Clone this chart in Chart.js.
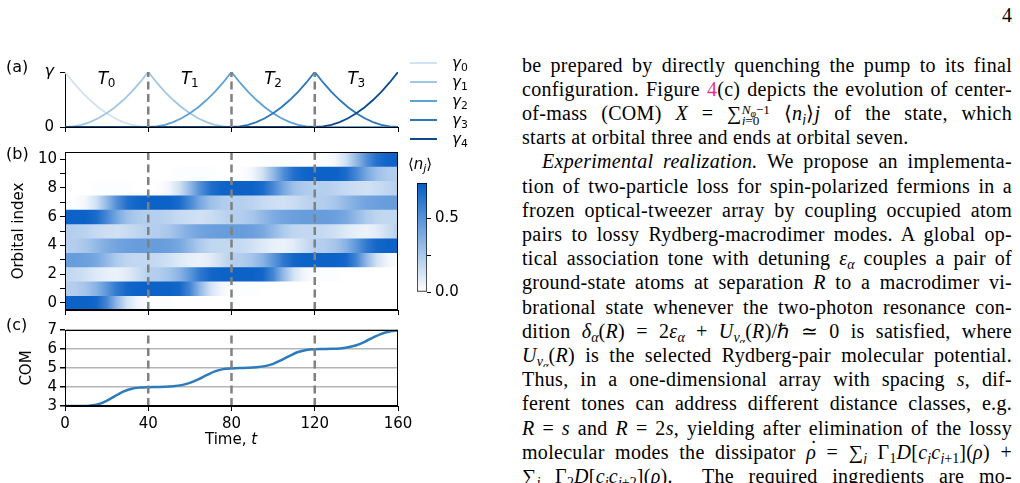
<!DOCTYPE html>
<html lang="en">
<head>
<meta charset="UTF-8">
<title>Orbital pumping figure</title>
<script src="https://cdn.jsdelivr.net/npm/chart.js"></script>
<style>
  body { margin: 0; width: 1020px; height: 483px; overflow: hidden; position: relative; background: #fff; font-family: 'DejaVu Sans', sans-serif; color: #000; }
  canvas { position: absolute; }
  .lbl { position: absolute; font-size: 16px; line-height: 1; white-space: nowrap; }
  .ctr { transform: translate(-50%, -50%); }
  #legend .row { position: absolute; left: 410px; height: 18px; width: 80px; }
  #legend .swatch { position: absolute; left: 0; top: 8px; width: 27px; height: 2px; }
  #legend .name { position: absolute; left: 42px; top: 0; font-size: 15px; line-height: 18px; }
  .msub { font-size: 0.72em; position: relative; top: 0.28em; line-height: 0; font-style: normal; }

  #text { position: absolute; left: 522px; top: 52.7px; width: 490px; font-family: 'Liberation Serif', serif; font-size: 20px; letter-spacing: 0.3px; line-height: 24.2px; }
  #text .ln { height: 24.2px; text-align: justify; text-align-last: justify; overflow: hidden; }
  #text .end { text-align-last: left; }
  #text .ind { text-indent: 20px; }
  .sb { font-size: 0.7em; position: relative; top: 0.3em; line-height: 0; letter-spacing: 0; }
  .sb2 { font-size: 0.75em; position: relative; top: 0.25em; line-height: 0; }
  .lim { display: inline-block; vertical-align: -0.4em; line-height: 0.85; font-size: 0.66em; text-align: left; text-indent: 0; letter-spacing: 0; }
  .dot { position: relative; display: inline-block; }
  .dot::after { content: '\02D9'; position: absolute; left: 0.2em; top: -0.1em; font-style: normal; line-height: 1; }
  .link { color: #e5308f; }
  #pgnum { position: absolute; left: 1002px; top: 4px; font-family: 'Liberation Serif', serif; font-size: 20px; }
</style>
</head>
<body>
  <canvas id="chartA" width="420" height="86" style="left:0;top:56px"></canvas>
  <canvas id="chartB" width="420" height="182" style="left:0;top:140px"></canvas>
  <canvas id="chartC" width="420" height="130" style="left:0;top:318px"></canvas>
  <canvas id="cbar" width="70" height="135" style="left:405px;top:170px"></canvas>

  <div class="lbl" style="left:6px;top:59px">(a)</div>
  <div class="lbl" style="left:6px;top:146px">(b)</div>
  <div class="lbl" style="left:6px;top:317px">(c)</div>
  <div class="lbl ctr" style="left:231px;top:439px;font-size:15px">Time, <i>t</i></div>
  <div class="lbl ctr" style="left:420px;top:164px;font-size:15px">⟨<i>n</i><span class="msub"><i>j</i></span>⟩</div>
  <div id="legend"></div>

  <div id="pgnum">4</div>
  <div id="text">
    <div class="ln">be prepared by directly quenching the pump to its final</div>
    <div class="ln">configuration. Figure <span class="link">4</span>(c) depicts the evolution of center-</div>
    <div class="ln">of-mass (COM) <i>X</i> = ∑<span class="lim"><i>N</i><span class="sb2"><i>φ</i></span>−1<br><i>j</i>=0</span> ⟨<i>n</i><span class="sb"><i>j</i></span>⟩<i>j</i> of the state, which</div>
    <div class="ln end">starts at orbital three and ends at orbital seven.</div>
    <div class="ln ind"><i>Experimental realization.</i> We propose an implementa-</div>
    <div class="ln">tion of two-particle loss for spin-polarized fermions in a</div>
    <div class="ln">frozen optical-tweezer array by coupling occupied atom</div>
    <div class="ln">pairs to lossy Rydberg-macrodimer modes. A global op-</div>
    <div class="ln">tical association tone with detuning <i>ε</i><span class="sb"><i>α</i></span> couples a pair of</div>
    <div class="ln">ground-state atoms at separation <i>R</i> to a macrodimer vi-</div>
    <div class="ln">brational state whenever the two-photon resonance con-</div>
    <div class="ln">dition <i>δ</i><span class="sb"><i>α</i></span>(<i>R</i>) = 2<i>ε</i><span class="sb"><i>α</i></span> + <i>U</i><span class="sb"><i>ν</i><span class="sb2"><i>α</i></span></span>(<i>R</i>)/ℏ ≃ 0 is satisfied, where</div>
    <div class="ln"><i>U</i><span class="sb"><i>ν</i><span class="sb2"><i>α</i></span></span>(<i>R</i>) is the selected Rydberg-pair molecular potential.</div>
    <div class="ln">Thus, in a one-dimensional array with spacing <i>s</i>, dif-</div>
    <div class="ln">ferent tones can address different distance classes, e.g.</div>
    <div class="ln"><i>R</i> = <i>s</i> and <i>R</i> = 2<i>s</i>, yielding after elimination of the lossy</div>
    <div class="ln">molecular modes the dissipator <span class="dot"><i>ρ</i></span> = ∑<span class="sb"><i>j</i></span> Γ<span class="sb">1</span><i>D</i>[<i>c</i><span class="sb"><i>j</i></span><i>c</i><span class="sb"><i>j</i>+1</span>](<i>ρ</i>) +</div>
    <div class="ln">∑<span class="sb"><i>j</i></span> Γ<span class="sb">2</span><i>D</i>[<i>c</i><span class="sb"><i>j</i></span><i>c</i><span class="sb"><i>j</i>+2</span>](<i>ρ</i>). &nbsp;The required ingredients are mo-</div>
  </div>

<script>
// ---- panel (a): pump rates gamma_k(t) ----
var gammaTimes = [0,4,8,12,16,20,24,28,32,36,40,44,48,52,56,60,64,68,72,76,80,
                  84,88,92,96,100,104,108,112,116,120,124,128,132,136,140,144,148,152,156,160];
var gamma0 = [1,.81,.64,.49,.36,.25,.16,.09,.04,.01,0, 0,0,0,0,0,0,0,0,0,0, 0,0,0,0,0,0,0,0,0,0, 0,0,0,0,0,0,0,0,0,0];
var gamma1 = [0,.01,.04,.09,.16,.25,.36,.49,.64,.81,1, .81,.64,.49,.36,.25,.16,.09,.04,.01,0, 0,0,0,0,0,0,0,0,0,0, 0,0,0,0,0,0,0,0,0,0];
var gamma2 = [0,0,0,0,0,0,0,0,0,0,0, .01,.04,.09,.16,.25,.36,.49,.64,.81,1, .81,.64,.49,.36,.25,.16,.09,.04,.01,0, 0,0,0,0,0,0,0,0,0,0];
var gamma3 = [0,0,0,0,0,0,0,0,0,0,0, 0,0,0,0,0,0,0,0,0,0, .01,.04,.09,.16,.25,.36,.49,.64,.81,1, .81,.64,.49,.36,.25,.16,.09,.04,.01,0];
var gamma4 = [0,0,0,0,0,0,0,0,0,0,0, 0,0,0,0,0,0,0,0,0,0, 0,0,0,0,0,0,0,0,0,0, .01,.04,.09,.16,.25,.36,.49,.64,.81,1];
var gammaColors = ['#d0e2f3', '#9fc8e4', '#5ea1d3', '#2a77ba', '#0c4a8f'];
var periodSubs = ['0', '1', '2', '3'];
var periodMid = [20, 60, 100, 140];
var boundaries = [40, 80, 120];
var timeTicks = [0, 40, 80, 120, 160];

// ---- panel (b): occupations <n_j>(t), one array per orbital ----
var heatTimes = [0,5,10,15,20,25,30,35,40,45,50,55,60,65,70,75,80,
                 85,90,95,100,105,110,115,120,125,130,135,140,145,150,155,160];
var n0  = [0.72,0.72,0.72,0.70,0.56,0.32,0.13,0.04,0.01, 0.01,0.01,0,0,0,0,0,0, 0,0,0,0,0,0,0,0, 0,0,0,0,0,0,0,0];
var n1  = [0.22,0.23,0.27,0.35,0.48,0.62,0.70,0.72,0.72, 0.72,0.72,0.70,0.56,0.32,0.13,0.04,0.01, 0.01,0.01,0,0,0,0,0,0, 0,0,0,0,0,0,0,0];
var n2  = [0.18,0.17,0.14,0.10,0.07,0.06,0.09,0.15,0.22, 0.23,0.27,0.35,0.48,0.62,0.70,0.72,0.72, 0.72,0.72,0.70,0.56,0.32,0.13,0.04,0.01, 0.01,0.01,0,0,0,0,0,0];
var n3  = [0.45,0.45,0.44,0.40,0.32,0.24,0.19,0.18,0.18, 0.17,0.14,0.10,0.07,0.06,0.09,0.15,0.22, 0.23,0.27,0.35,0.48,0.62,0.70,0.72,0.72, 0.72,0.72,0.70,0.56,0.32,0.13,0.04,0.01];
var n4  = [0.22,0.23,0.26,0.32,0.38,0.42,0.44,0.45,0.45, 0.45,0.44,0.40,0.32,0.24,0.19,0.18,0.18, 0.17,0.14,0.10,0.07,0.06,0.09,0.15,0.22, 0.23,0.27,0.35,0.48,0.62,0.70,0.72,0.72];
var n5  = [0.22,0.22,0.20,0.17,0.15,0.14,0.16,0.19,0.22, 0.23,0.26,0.32,0.38,0.42,0.44,0.45,0.45, 0.45,0.44,0.40,0.32,0.24,0.19,0.18,0.18, 0.17,0.14,0.10,0.07,0.06,0.09,0.15,0.22];
var n6  = [0.72,0.72,0.72,0.68,0.55,0.40,0.29,0.24,0.22, 0.22,0.20,0.17,0.15,0.14,0.16,0.19,0.22, 0.23,0.26,0.32,0.38,0.42,0.44,0.45,0.45, 0.45,0.44,0.40,0.32,0.24,0.19,0.18,0.18];
var n7  = [0,0.01,0.04,0.14,0.32,0.52,0.66,0.71,0.72, 0.72,0.72,0.68,0.55,0.40,0.29,0.24,0.22, 0.22,0.20,0.17,0.15,0.14,0.16,0.19,0.22, 0.23,0.26,0.32,0.38,0.42,0.44,0.45,0.45];
var n8  = [0,0,0,0.01,0.01,0.01,0.01,0,0, 0.01,0.04,0.14,0.32,0.52,0.66,0.71,0.72, 0.72,0.72,0.68,0.55,0.40,0.29,0.24,0.22, 0.22,0.20,0.17,0.15,0.14,0.16,0.19,0.22];
var n9  = [0,0,0,0,0,0,0,0,0, 0,0,0.01,0.01,0.01,0.01,0,0, 0.01,0.04,0.14,0.32,0.52,0.66,0.71,0.72, 0.72,0.72,0.68,0.55,0.40,0.29,0.24,0.22];
var n10 = [0,0,0,0,0,0,0,0,0, 0,0,0,0,0,0,0,0, 0,0,0.01,0.01,0.01,0.01,0,0, 0.01,0.04,0.14,0.32,0.52,0.66,0.71,0.72];
var orbitalIndex = [0,1,2,3,4,5,6,7,8,9,10];
var orbitalTicks = [0,1,2,3,4,5,6,7,8,9,10];
var heatMax = 0.74;
var cbarTicks = [0, 0.25, 0.5];
var cmapLow = [255, 255, 255];
var cmapHigh = [6, 94, 198];

// ---- panel (c): centre of mass ----
var comTimes = gammaTimes;
var comValues = [3.00,3.00,3.00,3.02,3.09,3.27,3.52,3.76,3.91,3.97,3.99,
                 4.00,4.01,4.04,4.10,4.22,4.40,4.62,4.82,4.94,4.98,
                 5.00,5.01,5.04,5.10,5.22,5.42,5.64,5.84,5.95,5.99,
                 6.00,6.01,6.03,6.09,6.20,6.38,6.60,6.80,6.92,6.97];
var comTicks = [3, 4, 5, 6, 7];

var heatRows = [n0, n1, n2, n3, n4, n5, n6, n7, n8, n9, n10];
var gammaSeries = [gamma0, gamma1, gamma2, gamma3, gamma4];

Chart.defaults.font.family = "'DejaVu Sans', sans-serif";
Chart.defaults.font.size = 15;
Chart.defaults.color = '#000';

function tickSet(values) {
    return function (scale) { scale.ticks = values.map(function (v) { return { value: v }; }); };
}
function fixWidth(w) { return function (scale) { scale.width = w; }; }
function fixHeight(h) { return function (scale) { scale.height = h; }; }

function heatColor(v) {
    var f = Math.max(0, Math.min(1, v / heatMax));
    var c = cmapLow.map(function (lo, k) { return Math.round(lo + (cmapHigh[k] - lo) * f); });
    return 'rgb(' + c.join(',') + ')';
}

// dashed period boundaries, one short line dataset each
function boundaryLines(y0, y1) {
    return boundaries.map(function (b) {
        return {
            type: 'line', indexAxis: 'x', order: -1,
            data: [{ x: b, y: y0 }, { x: b, y: y1 }],
            borderColor: '#808080', borderWidth: 2.5, borderDash: [8, 4.5],
            pointRadius: 0
        };
    });
}

var axisGrid = { drawOnChartArea: false, tickLength: 5, tickColor: '#000' };
var axisBorder = { color: '#000', width: 1 };
var noPlugins = { legend: { display: false }, tooltip: { enabled: false } };

// closes the frame on top/right
var boxPlugin = {
    id: 'box',
    afterDatasetsDraw: function (chart) {
        var a = chart.chartArea, c = chart.ctx;
        c.save();
        c.strokeStyle = '#000';
        c.lineWidth = 1;
        c.strokeRect(Math.round(a.left) + 0.5, Math.round(a.top) + 0.5,
                     Math.round(a.right - a.left) - 1, Math.round(a.bottom - a.top) - 1);
        c.restore();
    }
};

// T_k labels in panel (a)
var periodLabelY = 0.79;
var periodPlugin = {
    id: 'periods',
    afterDatasetsDraw: function (chart) {
        var c = chart.ctx, xs = chart.scales.x, ys = chart.scales.y;
        c.save();
        c.fillStyle = '#000';
        c.textBaseline = 'alphabetic';
        periodSubs.forEach(function (s, i) {
            var px = xs.getPixelForValue(periodMid[i]) - 9;
            var py = ys.getPixelForValue(periodLabelY);
            c.font = "italic 17px 'DejaVu Sans'";
            c.fillText('T', px, py);
            c.font = "12px 'DejaVu Sans'";
            c.fillText(s, px + 10, py + 3.5);
        });
        c.restore();
    }
};

// ---- (a) ----
new Chart(document.getElementById('chartA'), {
    type: 'line',
    data: {
        datasets: gammaSeries.map(function (g, k) {
            return {
                label: 'gamma' + k,
                data: gammaTimes.map(function (t, i) { return { x: t, y: g[i] }; }),
                borderColor: gammaColors[k], borderWidth: 1.8,
                pointRadius: 0, tension: 0, order: 4 - k
            };
        }).concat(boundaryLines(0, 1))
    },
    options: {
        responsive: false, animation: false,
        layout: { padding: { top: 16, right: 22, left: 0, bottom: 0 } },
        plugins: noPlugins,
        scales: {
            x: { type: 'linear', min: 0, max: 160, afterBuildTicks: tickSet(timeTicks), afterFit: fixHeight(10),
                 ticks: { display: false, autoSkip: false }, grid: axisGrid, border: axisBorder },
            y: { type: 'linear', min: 0, max: 1, afterBuildTicks: tickSet([0, 1]), afterFit: fixWidth(65),
                 ticks: {
                     padding: 6, autoSkip: false,
                     callback: function (v) { return v === 1 ? 'γ' : '0'; },
                     font: function (ctx) { return ctx.tick && ctx.tick.value === 1 ? { style: 'italic', size: 16 } : { size: 15 }; }
                 },
                 grid: axisGrid, border: axisBorder }
        }
    },
    plugins: [periodPlugin]
});

// ---- (b) ----
function rowGradient(ctx) {
    var chart = ctx.chart;
    if (ctx.type !== 'data' || !chart.chartArea) return heatColor(0);
    var xs = chart.scales.x;
    var x0 = xs.getPixelForValue(heatTimes[0]);
    var x1 = xs.getPixelForValue(heatTimes[heatTimes.length - 1]);
    var g = chart.ctx.createLinearGradient(x0, 0, x1, 0);
    var row = heatRows[ctx.dataIndex];
    heatTimes.forEach(function (t, i) {
        g.addColorStop((xs.getPixelForValue(t) - x0) / (x1 - x0), heatColor(row[i]));
    });
    return g;
}

new Chart(document.getElementById('chartB'), {
    type: 'bar',
    data: {
        datasets: [{
            type: 'bar', indexAxis: 'y',
            data: heatRows.map(function (row, j) { return { x: [heatTimes[0], heatTimes[heatTimes.length - 1]], y: orbitalIndex[j] }; }),
            backgroundColor: rowGradient, borderWidth: 0,
            barPercentage: 1, categoryPercentage: 1
        }].concat(boundaryLines(-0.5, 10.5))
    },
    options: {
        indexAxis: 'y', responsive: false, animation: false,
        layout: { padding: { top: 7, right: 22, left: 0, bottom: 0 } },
        plugins: noPlugins,
        scales: {
            x: { type: 'linear', min: 0, max: 160, afterBuildTicks: tickSet(timeTicks), afterFit: fixHeight(7),
                 ticks: { display: false, autoSkip: false }, grid: axisGrid, border: axisBorder },
            y: { type: 'linear', min: -0.5, max: 10.5, offset: false, afterBuildTicks: tickSet(orbitalTicks), afterFit: fixWidth(65),
                 ticks: { padding: 3, autoSkip: false, callback: function (v) { return v % 2 === 0 ? String(v) : ''; } },
                 title: { display: true, text: 'Orbital index', padding: { top: 10, bottom: 0 } },
                 grid: { drawOnChartArea: false, offset: false, tickLength: 5, tickColor: '#000' }, border: axisBorder }
        }
    },
    plugins: [boxPlugin]
});

// ---- colour bar ----
function cbarGradient(ctx) {
    var chart = ctx.chart;
    if (!chart.chartArea) return heatColor(heatMax);
    var ys = chart.scales.y;
    var g = chart.ctx.createLinearGradient(0, ys.getPixelForValue(0), 0, ys.getPixelForValue(heatMax));
    g.addColorStop(0, heatColor(0));
    g.addColorStop(1, heatColor(heatMax));
    return g;
}

new Chart(document.getElementById('cbar'), {
    type: 'bar',
    data: {
        labels: [''],
        datasets: [{ data: [heatMax], backgroundColor: cbarGradient, borderColor: '#000', borderWidth: 1,
                     borderSkipped: false, barPercentage: 1, categoryPercentage: 1 }]
    },
    options: {
        responsive: false, animation: false,
        layout: { padding: { left: 12, top: 8, bottom: 9, right: 0 } },
        plugins: noPlugins,
        scales: {
            x: { display: false },
            y: { position: 'right', min: 0, max: heatMax, afterBuildTicks: tickSet(cbarTicks), afterFit: fixWidth(48),
                 ticks: { padding: 4, autoSkip: false, callback: function (v) { return v === 0.25 ? '' : v.toFixed(1); } },
                 grid: { drawOnChartArea: false, tickLength: 4, tickColor: '#000' }, border: { display: false } }
        }
    }
});

// ---- (c) ----
new Chart(document.getElementById('chartC'), {
    type: 'line',
    data: {
        datasets: [{
            label: 'COM',
            data: comTimes.map(function (t, i) { return { x: t, y: comValues[i] }; }),
            borderColor: '#2b7bbd', borderWidth: 2.5, pointRadius: 0,
            cubicInterpolationMode: 'monotone'
        }].concat(boundaryLines(3, 7))
    },
    options: {
        responsive: false, animation: false,
        layout: { padding: { top: 10, right: 22, left: 0, bottom: 0 } },
        plugins: noPlugins,
        scales: {
            x: { type: 'linear', min: 0, max: 160, afterBuildTicks: tickSet(timeTicks), afterFit: fixHeight(42),
                 ticks: { padding: 4, autoSkip: false, maxRotation: 0 }, grid: axisGrid, border: axisBorder },
            y: { type: 'linear', min: 3, max: 7, afterBuildTicks: tickSet(comTicks), afterFit: fixWidth(65),
                 ticks: { padding: 3, autoSkip: false },
                 title: { display: true, text: 'COM', padding: { top: 18, bottom: 0 } },
                 grid: { drawOnChartArea: true, color: '#b5b5b5', lineWidth: 1.5, tickLength: 5, tickColor: '#000' },
                 border: axisBorder }
        }
    },
    plugins: [boxPlugin]
});

// legend for panel (a)
var legendTop = [54, 73, 92, 111, 130];
document.getElementById('legend').innerHTML = gammaColors.map(function (col, k) {
    return '<div class="row" style="top:' + legendTop[k] + 'px">' +
           '<div class="swatch" style="background:' + col + '"></div>' +
           '<div class="name"><i>γ</i><span class="msub">' + k + '</span></div></div>';
}).join('');
</script>
</body>
</html>
